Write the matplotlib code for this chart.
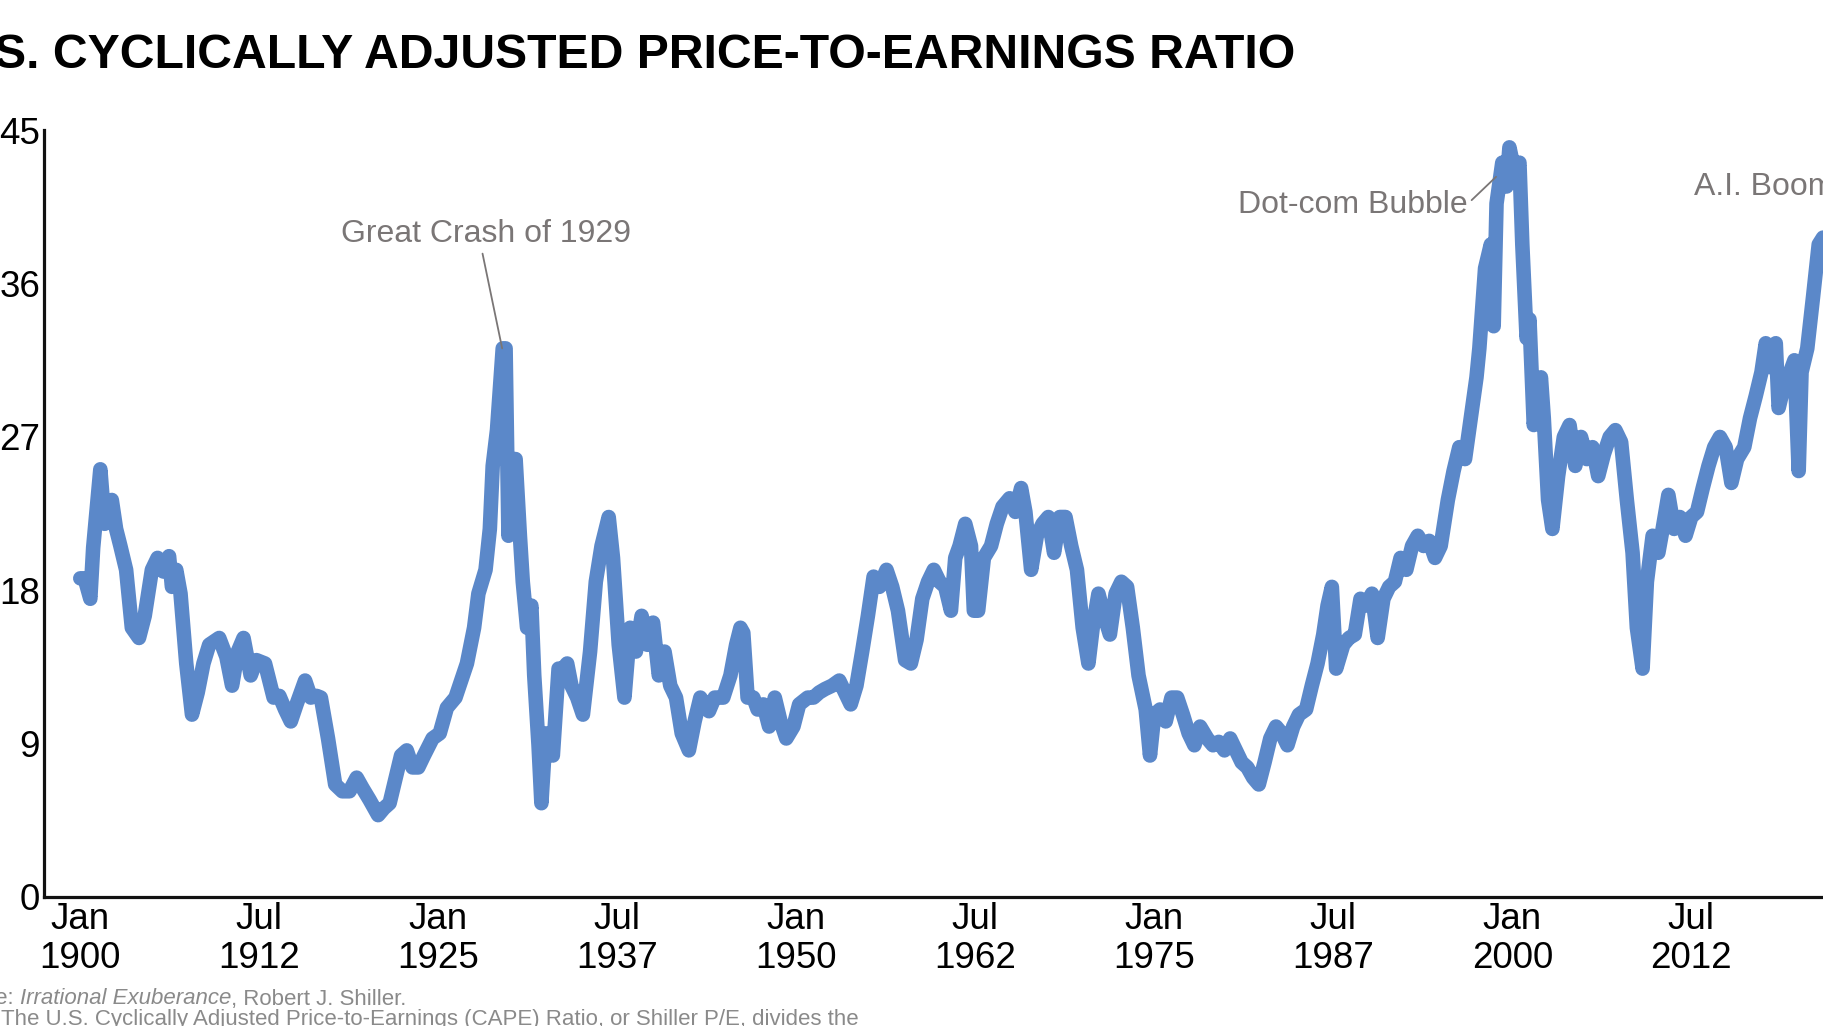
import matplotlib
matplotlib.use("Agg")
import matplotlib.pyplot as plt

# ---------------- data (decimal year, CAPE value) ----------------
years = [1900.0, 1900.3, 1900.7, 1900.9, 1901.4, 1901.7, 1902.2, 1902.5, 1902.8, 1903.2,
         1903.6, 1904.1, 1904.5, 1905.0, 1905.4, 1905.8, 1906.2, 1906.4, 1906.7, 1907.0,
         1907.4, 1907.8, 1908.2, 1908.6, 1909.0, 1909.7, 1910.2, 1910.6, 1911.0, 1911.4,
         1911.9, 1912.3, 1912.9, 1913.5, 1913.9, 1914.3, 1914.7, 1915.1, 1915.7, 1916.1,
         1916.5, 1916.8, 1917.3, 1917.8, 1918.3, 1918.8, 1919.3, 1919.7, 1920.2, 1920.8,
         1921.2, 1921.6, 1922.0, 1922.4, 1922.8, 1923.2, 1923.6, 1924.0, 1924.6, 1925.1,
         1925.6, 1926.2, 1926.6, 1927.0, 1927.5, 1927.8, 1928.3, 1928.6, 1928.8, 1929.1,
         1929.5, 1929.7, 1929.9, 1930.1, 1930.4, 1930.7, 1930.9, 1931.2, 1931.5, 1931.7,
         1932.0, 1932.2, 1932.5, 1932.8, 1933.0, 1933.4, 1933.7, 1934.0, 1934.3, 1934.7,
         1935.1, 1935.6, 1936.0, 1936.4, 1936.9, 1937.2, 1937.6, 1938.0, 1938.4, 1938.8,
         1939.2, 1939.6, 1940.0, 1940.4, 1940.8, 1941.2, 1941.6, 1942.0, 1942.5, 1942.9,
         1943.3, 1943.9, 1944.3, 1944.9, 1945.4, 1945.8, 1946.1, 1946.3, 1946.6, 1947.0,
         1947.3, 1947.7, 1948.1, 1948.5, 1948.9, 1949.3, 1949.8, 1950.2, 1950.8, 1951.2,
         1951.6, 1952.0, 1952.5, 1953.0, 1953.4, 1953.8, 1954.2, 1954.6, 1955.0, 1955.4,
         1955.8, 1956.3, 1956.7, 1957.1, 1957.6, 1958.0, 1958.4, 1958.8, 1959.2, 1959.6,
         1960.0, 1960.4, 1960.8, 1961.1, 1961.4, 1961.8, 1962.2, 1962.4, 1962.7, 1963.1,
         1963.6, 1964.0, 1964.4, 1964.9, 1965.3, 1965.7, 1966.0, 1966.4, 1966.8, 1967.2,
         1967.6, 1968.0, 1968.4, 1968.8, 1969.2, 1969.6, 1970.0, 1970.4, 1970.7, 1971.1,
         1971.5, 1971.9, 1972.3, 1972.7, 1973.1, 1973.5, 1973.9, 1974.4, 1974.7, 1975.0,
         1975.4, 1975.8, 1976.2, 1976.6, 1977.0, 1977.4, 1977.8, 1978.2, 1978.7, 1979.1,
         1979.5, 1979.9, 1980.3, 1980.7, 1981.1, 1981.5, 1981.9, 1982.3, 1982.7, 1983.1,
         1983.5, 1983.9, 1984.3, 1984.7, 1985.1, 1985.6, 1986.0, 1986.4, 1986.8, 1987.1,
         1987.4, 1987.7, 1988.2, 1988.6, 1989.0, 1989.4, 1989.8, 1990.2, 1990.6, 1991.0,
         1991.4, 1991.8, 1992.2, 1992.6, 1993.0, 1993.4, 1993.8, 1994.2, 1994.6, 1995.0,
         1995.5, 1995.9, 1996.3, 1996.7, 1997.1, 1997.5, 1997.7, 1998.1, 1998.5, 1998.7,
         1998.9, 1999.3, 1999.6, 1999.8, 2000.2, 2000.5, 2000.7, 2001.0, 2001.2, 2001.5,
         2002.0, 2002.2, 2002.5, 2002.8, 2003.2, 2003.6, 2004.0, 2004.4, 2004.8, 2005.2,
         2005.6, 2006.0, 2006.4, 2006.8, 2007.2, 2007.6, 2008.0, 2008.4, 2008.7, 2009.1,
         2009.4, 2009.8, 2010.2, 2010.5, 2010.9, 2011.3, 2011.7, 2012.1, 2012.5, 2012.9,
         2013.3, 2013.7, 2014.1, 2014.5, 2014.9, 2015.3, 2015.7, 2016.2, 2016.6, 2017.0,
         2017.4, 2017.7, 2018.0, 2018.4, 2018.6, 2019.0, 2019.4, 2019.7, 2020.0, 2020.2,
         2020.6, 2021.0, 2021.4, 2021.7, 2022.0]
cape = [18.7, 18.7, 17.5, 20.5, 25.1, 21.9, 23.3, 21.6, 20.6, 19.2,
        15.8, 15.2, 16.5, 19.2, 19.9, 19.1, 20.0, 18.2, 19.2, 17.8,
        13.7, 10.7, 12.0, 13.7, 14.8, 15.2, 14.1, 12.4, 14.4, 15.2,
        13.0, 13.9, 13.7, 11.7, 11.8, 11.0, 10.3, 11.3, 12.7, 11.7,
        11.8, 11.7, 9.3, 6.6, 6.2, 6.2, 7.0, 6.4, 5.7, 4.8,
        5.2, 5.5, 6.9, 8.3, 8.6, 7.6, 7.6, 8.3, 9.3, 9.6,
        11.1, 11.7, 12.7, 13.7, 15.8, 17.8, 19.2, 21.6, 25.3, 27.4,
        32.2, 32.2, 21.2, 25.7, 25.7, 21.2, 18.5, 15.8, 17.1, 13.0,
        8.9, 5.5, 9.6, 8.9, 8.3, 13.4, 13.4, 13.7, 12.4, 11.7,
        10.7, 14.4, 18.5, 20.6, 22.3, 19.9, 14.8, 11.7, 15.8, 14.4,
        16.5, 14.8, 16.1, 13.0, 14.4, 12.4, 11.7, 9.6, 8.6, 10.3,
        11.7, 10.9, 11.7, 11.7, 13.0, 14.8, 15.8, 15.5, 11.7, 11.7,
        11.0, 11.3, 10.0, 11.7, 10.3, 9.3, 10.0, 11.3, 11.7, 11.7,
        12.0, 12.2, 12.4, 12.7, 12.0, 11.3, 12.4, 14.4, 16.5, 18.8,
        18.2, 19.2, 18.2, 16.8, 13.9, 13.7, 15.1, 17.5, 18.5, 19.2,
        18.5, 18.2, 16.8, 19.9, 20.6, 21.9, 20.6, 16.8, 16.8, 19.9,
        20.6, 21.9, 22.9, 23.4, 22.6, 24.0, 22.6, 19.2, 21.2, 21.9,
        22.3, 20.2, 22.3, 22.3, 20.6, 19.2, 15.8, 13.7, 15.8, 17.8,
        16.5, 15.4, 17.8, 18.5, 18.2, 15.8, 13.0, 11.0, 8.3, 10.7,
        11.0, 10.3, 11.7, 11.7, 10.7, 9.6, 8.9, 10.0, 9.3, 8.9,
        9.1, 8.6, 9.3, 8.6, 7.9, 7.6, 7.0, 6.6, 7.9, 9.3,
        10.0, 9.6, 8.9, 10.0, 10.7, 11.0, 12.4, 13.7, 15.4, 17.1,
        18.2, 13.4, 14.8, 15.2, 15.4, 17.5, 17.1, 17.8, 15.2, 17.5,
        18.2, 18.5, 19.9, 19.2, 20.6, 21.2, 20.6, 20.9, 19.9, 20.6,
        23.3, 25.0, 26.4, 25.7, 28.1, 30.5, 32.2, 36.9, 38.3, 33.5,
        40.7, 43.1, 41.7, 44.0, 42.4, 43.1, 38.3, 32.8, 33.9, 27.7,
        30.5, 28.1, 23.3, 21.6, 24.7, 27.0, 27.7, 25.3, 27.0, 25.7,
        26.4, 24.7, 26.0, 27.0, 27.4, 26.7, 23.3, 20.2, 15.8, 13.4,
        18.5, 21.2, 20.2, 21.6, 23.6, 21.6, 22.3, 21.2, 22.3, 22.6,
        24.0, 25.3, 26.4, 27.0, 26.4, 24.3, 25.7, 26.4, 28.1, 29.4,
        30.8, 32.5, 31.1, 32.5, 28.7, 30.1, 30.8, 31.5, 25.0, 30.8,
        32.2, 35.2, 38.3, 38.7, 38.5]

tick_years = [1900.0, 1912.5, 1925.0, 1937.5, 1950.0, 1962.5, 1975.0, 1987.5, 2000.0, 2012.5]
tick_labels = ["Jan\n1900", "Jul\n1912", "Jan\n1925", "Jul\n1937", "Jan\n1950",
               "Jul\n1962", "Jan\n1975", "Jul\n1987", "Jan\n2000", "Jul\n2012"]
y_ticks = [0, 9, 18, 27, 36, 45]

title = "U.S. CYCLICALLY ADJUSTED PRICE-TO-EARNINGS RATIO"
ann_crash = "Great Crash of 1929"
ann_dotcom = "Dot-com Bubble"
ann_ai = "A.I. Boom"

# ---------------- styling ----------------
plt.rcParams['font.family'] = ['Liberation Sans', 'DejaVu Sans']
W, H, DPI = 1824, 1026, 100
fig = plt.figure(figsize=(W / DPI, H / DPI), dpi=DPI)
fig.patch.set_facecolor('white')

LINE_COLOR = '#5b88c9'
GRAY = '#7a7676'

x0, x1 = 1897.48, 2024.0
px_per_year = 14.32
ax_left = 44.2 / W
ax_width = (x1 - x0) * px_per_year / W
ax_bottom = 1 - 896.9 / H
ax_top = 1 - 130.3 / H
ax = fig.add_axes([ax_left, ax_bottom, ax_width, ax_top - ax_bottom])
ax.set_xlim(x0, x1)
ax.set_ylim(0, 45)

ax.plot(years, cape, color=LINE_COLOR, lw=10.5, solid_joinstyle='round',
        solid_capstyle='round', zorder=3)

for s in ['top', 'right']:
    ax.spines[s].set_visible(False)
for s in ['left', 'bottom']:
    ax.spines[s].set_linewidth(2.3)
    ax.spines[s].set_color('#111111')

ax.set_yticks(y_ticks)
ax.set_yticklabels([str(v) for v in y_ticks])
ax.set_xticks(tick_years)
ax.set_xticklabels(tick_labels, linespacing=1.12)
ax.tick_params(axis='y', length=0, pad=3, labelsize=26.5, labelcolor='black')
ax.tick_params(axis='x', length=0, pad=4, labelsize=26.5, labelcolor='black')

# annotations (text + plain connector lines)
ax.text(1928.3, 38.9, ann_crash, ha='center', va='center', fontsize=23, color=GRAY)
ax.annotate('', xy=(1929.46, 32.2), xytext=(1928.09, 37.76),
            arrowprops=dict(arrowstyle='-', color=GRAY, lw=1.3, shrinkA=0, shrinkB=0))
ax.text(1996.9, 40.6, ann_dotcom, ha='right', va='center', fontsize=23, color=GRAY)
ax.annotate('', xy=(1998.87, 42.27), xytext=(1997.16, 40.9),
            arrowprops=dict(arrowstyle='-', color=GRAY, lw=1.3, shrinkA=0, shrinkB=0))
ax.text(2012.7, 41.7, ann_ai, ha='left', va='center', fontsize=23, color=GRAY)

# title
fig.text(1295 / W, 1 - 56 / H, title, ha='right', va='center',
         fontsize=34.7, fontweight='bold', color='black')

# source / notes
fig.canvas.draw()
r = fig.canvas.get_renderer()
src_y = 1 - 999 / H
FS = 16
SRC_GRAY = '#8a8a8a'
t_ital = fig.text(20 / W, src_y, "Irrational Exuberance", ha='left', va='center',
                  fontsize=FS, style='italic', color=SRC_GRAY)
fig.text(20 / W, src_y, "Source: ", ha='right', va='center', fontsize=FS, color=SRC_GRAY)
bb = t_ital.get_window_extent(renderer=r)
fig.text(bb.x1 / W, src_y, ", Robert J. Shiller.", ha='left', va='center',
         fontsize=FS, color=SRC_GRAY)
fig.text(1 / W, 1 - 1019 / H,
         "The U.S. Cyclically Adjusted Price-to-Earnings (CAPE) Ratio, or Shiller P/E, divides the",
         ha='left', va='center', fontsize=FS, color=SRC_GRAY)

fig.savefig('out.png', dpi=DPI, facecolor='white')
